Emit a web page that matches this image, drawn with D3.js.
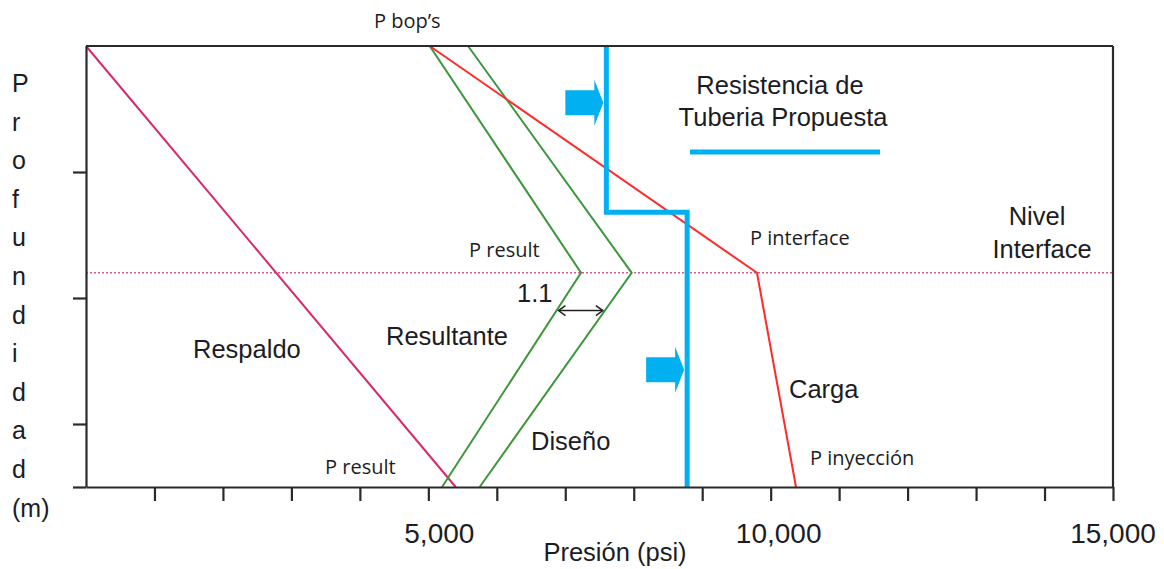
<!DOCTYPE html>
<html>
<head>
<meta charset="utf-8">
<script src="https://cdn.jsdelivr.net/npm/d3@7"></script>
<style>
  html, body { margin: 0; padding: 0; background: #ffffff; }
  svg { display: block; }
</style>
</head>
<body>
<svg id="chart" width="1164" height="569"></svg>
<script>
// ---------- DATA ----------
// pressure (psi) vs depth (m)
const respaldoPsi   = [0, 5400];
const respaldoDepth = [0, 3500];

const resultantePsi   = [5020, 7230, 5200];
const resultanteDepth = [0, 1800, 3500];

const disenoPsi   = [5580, 7970, 5750];
const disenoDepth = [0, 1800, 3500];

const cargaPsi   = [5020, 9800, 10370];
const cargaDepth = [0, 1800, 3500];

const tuberiaPsi   = [7600, 7600, 8780, 8780];
const tuberiaDepth = [0, 1320, 1320, 3500];

const interfaceDepth = 1800;
const ratioDepth = 2100;          // where the 1.1 arrow is drawn
const ratioLabel = "1.1";

const xTickValues = [1000,2000,3000,4000,5000,6000,7000,8000,9000,10000,11000,12000,13000,14000,15000];
const xTickLabels = ["5,000", "10,000", "15,000"];
const xLabelValues = [5000, 10000, 15000];
const yTickValues = [1000, 2000, 3000, 3500];
const yAxisLetters = ["P","r","o","f","u","n","d","i","d","a","d","(m)"];
const xAxisTitle = "Presión (psi)";

// ---------- LAYOUT ----------
const svg = d3.select("#chart");
const mLeft = 86, mRight = 1113, mTop = 46, mBottom = 487;
const x = d3.scaleLinear().domain([0, 15000]).range([mLeft, mRight]);
const y = d3.scaleLinear().domain([0, 3500]).range([mTop, mBottom]);

const BIG = "'Liberation Sans', Arial, sans-serif";
const SMALL = "'Open Sans', sans-serif";
const TXT = "#1c1c24";

const zip = (a, b) => a.map((v, i) => [v, b[i]]);
const line = d3.line().x(d => x(d[0])).y(d => y(d[1]));

// interface dotted line
svg.append("line")
  .attr("x1", x(0)).attr("x2", x(15000))
  .attr("y1", y(interfaceDepth)).attr("y2", y(interfaceDepth))
  .attr("stroke", "#d45a92").attr("stroke-width", 1.6)
  .attr("stroke-dasharray", "2,2");

// series
const series = [
  {p: respaldoPsi, d: respaldoDepth, c: "#d8286e", w: 2},
  {p: resultantePsi, d: resultanteDepth, c: "#3c963c", w: 2},
  {p: disenoPsi, d: disenoDepth, c: "#3c963c", w: 2},
  {p: cargaPsi, d: cargaDepth, c: "#ff2a2a", w: 2},
  {p: tuberiaPsi, d: tuberiaDepth, c: "#00b0f0", w: 5}
];
series.forEach(s => {
  svg.append("path")
    .attr("d", line(zip(s.p, s.d)))
    .attr("fill", "none")
    .attr("stroke", s.c)
    .attr("stroke-width", s.w)
    .attr("stroke-linejoin", "miter");
});

// axes
const xAxis = d3.axisBottom(x).tickValues(xTickValues).tickSize(14).tickSizeOuter(0).tickFormat("");
const gx = svg.append("g").attr("transform", `translate(0,${mBottom})`).call(xAxis);
const yAxis = d3.axisLeft(y).tickValues(yTickValues).tickSize(13).tickSizeOuter(0).tickFormat("");
const gy = svg.append("g").attr("transform", `translate(${mLeft},0)`).call(yAxis);
[gx, gy].forEach(g => {
  g.selectAll("path.domain").attr("stroke", "#2a2a2a").attr("stroke-width", 2.2);
  g.selectAll(".tick line").attr("stroke", "#2a2a2a").attr("stroke-width", 2.2);
});
// top & right frame
svg.append("line").attr("x1", mLeft).attr("x2", mRight).attr("y1", mTop).attr("y2", mTop)
  .attr("stroke", "#2a2a2a").attr("stroke-width", 2);
svg.append("line").attr("x1", mRight).attr("x2", mRight).attr("y1", mTop).attr("y2", mBottom)
  .attr("stroke", "#2a2a2a").attr("stroke-width", 2.2);

// x tick labels
const xLabelShift = [11, 8, 0];
svg.selectAll("text.xl").data(xLabelValues).enter().append("text")
  .attr("class", "xl")
  .attr("x", (d, i) => x(d) + xLabelShift[i]).attr("y", 543)
  .attr("text-anchor", "middle")
  .attr("font-family", BIG).attr("font-size", 28).attr("fill", TXT)
  .text((d, i) => xTickLabels[i]);

svg.append("text").attr("x", 615).attr("y", 561).attr("text-anchor", "middle")
  .attr("font-family", BIG).attr("font-size", 25.5).attr("fill", TXT).text(xAxisTitle);

// vertical y title
svg.selectAll("text.yl").data(yAxisLetters).enter().append("text")
  .attr("class", "yl")
  .attr("x", 12).attr("y", (d, i) => 92 + i * 38.6)
  .attr("font-family", BIG).attr("font-size", 25).attr("fill", TXT)
  .text(d => d);

// blue block arrows pointing at the pipe line
function blockArrow(tipX, cy) {
  const p = [[tipX - 38, cy - 12.5], [tipX - 9, cy - 12.5], [tipX - 9, cy - 23], [tipX, cy],
             [tipX - 9, cy + 23], [tipX - 9, cy + 12.5], [tipX - 38, cy + 12.5]];
  svg.append("polygon").attr("points", p.map(q => q.join(",")).join(" ")).attr("fill", "#00b0f0");
}
blockArrow(x(tuberiaPsi[0]) - 3, y(450));
blockArrow(x(tuberiaPsi[2]) - 3, y(2570));

// legend for pipe resistance
svg.append("line").attr("x1", 690).attr("x2", 880).attr("y1", 152).attr("y2", 152)
  .attr("stroke", "#00b0f0").attr("stroke-width", 5);

// ratio arrow between resultante and diseno
const interp = (ps, ds, depth) => {
  for (let i = 0; i < ds.length - 1; i++) {
    if (depth >= ds[i] && depth <= ds[i + 1]) {
      const t = (depth - ds[i]) / (ds[i + 1] - ds[i]);
      return ps[i] + t * (ps[i + 1] - ps[i]);
    }
  }
  return ps[ps.length - 1];
};
const ax1 = x(interp(resultantePsi, resultanteDepth, ratioDepth)) + 2;
const ax2 = x(interp(disenoPsi, disenoDepth, ratioDepth)) - 2;
const ay = y(ratioDepth);
svg.append("line").attr("x1", ax1).attr("x2", ax2).attr("y1", ay).attr("y2", ay)
  .attr("stroke", "#222").attr("stroke-width", 1.5);
svg.append("path").attr("d", `M${ax1 + 7},${ay - 5} L${ax1},${ay} L${ax1 + 7},${ay + 5}`)
  .attr("fill", "none").attr("stroke", "#222").attr("stroke-width", 1.5);
svg.append("path").attr("d", `M${ax2 - 7},${ay - 5} L${ax2},${ay} L${ax2 - 7},${ay + 5}`)
  .attr("fill", "none").attr("stroke", "#222").attr("stroke-width", 1.5);

// labels
const bigLabels = [
  ["Resistencia de", 780, 94, "middle"],
  ["Tuberia Propuesta", 783, 126, "middle"],
  ["Nivel", 1037, 225, "middle"],
  ["Interface", 1042, 258, "middle"],
  ["Respaldo", 193, 358, "start"],
  ["Resultante", 386, 345, "start"],
  ["Diseño", 531, 450, "start"],
  ["Carga", 789, 398, "start"],
  [ratioLabel, 517, 302, "start"]
];
bigLabels.forEach(l => {
  svg.append("text").attr("x", l[1]).attr("y", l[2]).attr("text-anchor", l[3])
    .attr("font-family", BIG).attr("font-size", 25.5).attr("fill", TXT).text(l[0]);
});
const smallLabels = [
  ["P bop’s", 374, 28],
  ["P result", 469, 257],
  ["P interface", 750, 245],
  ["P result", 325, 474],
  ["P inyección", 810, 465]
];
smallLabels.forEach(l => {
  svg.append("text").attr("x", l[1]).attr("y", l[2])
    .attr("font-family", SMALL).attr("font-size", 20).attr("fill", TXT).text(l[0]);
});
</script>
</body>
</html>
